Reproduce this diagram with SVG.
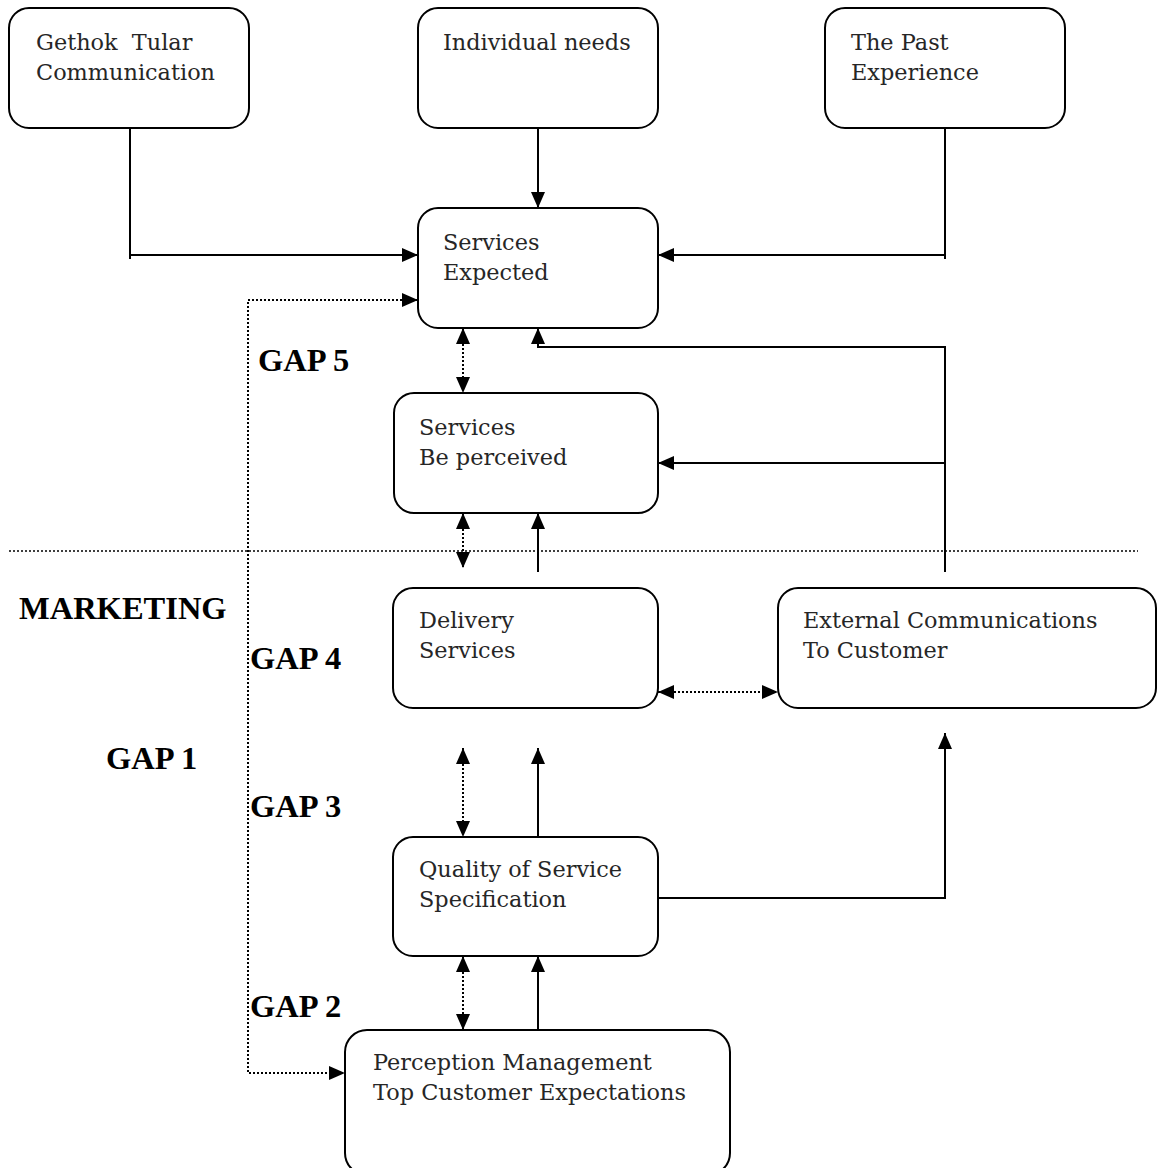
<svg xmlns="http://www.w3.org/2000/svg" width="1157" height="1168" viewBox="0 0 1157 1168">
<style>
.box{fill:#fff;stroke:#000;stroke-width:2}
.t{font-family:"DejaVu Serif","Liberation Serif",serif;font-size:22.4px;fill:#262626}
.g{font-family:"Liberation Serif","Times New Roman",serif;font-size:32.5px;font-weight:bold;fill:#000}
.c{fill:none;stroke:#000;stroke-width:2}
.d{fill:none;stroke:#000;stroke-width:2;stroke-dasharray:2 2}
</style>
<defs>
<marker id="ah" viewBox="0 0 16 14" refX="16" refY="7" markerWidth="16" markerHeight="14" markerUnits="userSpaceOnUse" orient="auto-start-reverse"><path d="M0,0 L16,7 L0,14 Z" fill="#000"/></marker>
</defs>
<rect width="1157" height="1168" fill="#fff"/>
<g id="connectors">
<path class="c" d="M130,128 V259"/>
<path class="c" d="M130,255 H418" marker-end="url(#ah)"/>
<path class="c" d="M538,128 V208" marker-end="url(#ah)"/>
<path class="c" d="M945,128 V259"/>
<path class="c" d="M945,255 H658" marker-end="url(#ah)"/>
<path class="d" d="M418,300 H248 V1073 H345" marker-start="url(#ah)" marker-end="url(#ah)"/>
<path class="d" d="M463,328 V393" marker-start="url(#ah)" marker-end="url(#ah)"/>
<path class="c" d="M945,572 V347 H538 V328" marker-end="url(#ah)"/>
<path class="c" d="M945,463 H658" marker-end="url(#ah)"/>
<path class="d" d="M463,513 V568" marker-start="url(#ah)" marker-end="url(#ah)"/>
<path class="c" d="M538,572 V513" marker-end="url(#ah)"/>
<path fill="none" stroke="#000" stroke-width="1.5" stroke-dasharray="2 2" d="M9,551 H1138"/>
<path class="d" d="M658,692 H778" marker-start="url(#ah)" marker-end="url(#ah)"/>
<path class="d" d="M463,748 V837" marker-start="url(#ah)" marker-end="url(#ah)"/>
<path class="c" d="M538,843 V748" marker-end="url(#ah)"/>
<path class="c" d="M658,898 H945 V733" marker-end="url(#ah)"/>
<path class="d" d="M463,956 V1030" marker-start="url(#ah)" marker-end="url(#ah)"/>
<path class="c" d="M538,1041 V956" marker-end="url(#ah)"/>
</g>
<g id="gethok"><rect class="box" x="9" y="8" width="240" height="120" rx="20"/><text class="t" x="36" y="50" xml:space="preserve">Gethok  Tular</text><text class="t" x="36" y="80">Communication</text></g>
<g id="individual"><rect class="box" x="418" y="8" width="240" height="120" rx="20"/><text class="t" x="443" y="50">Individual needs</text></g>
<g id="past"><rect class="box" x="825" y="8" width="240" height="120" rx="20"/><text class="t" x="851" y="50">The Past</text><text class="t" x="851" y="80">Experience</text></g>
<g id="expected"><rect class="box" x="418" y="208" width="240" height="120" rx="20"/><text class="t" x="443" y="250">Services</text><text class="t" x="443" y="280">Expected</text></g>
<g id="perceived"><rect class="box" x="394" y="393" width="264" height="120" rx="20"/><text class="t" x="419" y="435">Services</text><text class="t" x="419" y="465">Be perceived</text></g>
<g id="delivery"><rect class="box" x="393" y="588" width="265" height="120" rx="20"/><text class="t" x="419" y="628">Delivery</text><text class="t" x="419" y="658">Services</text></g>
<g id="external"><rect class="box" x="778" y="588" width="378" height="120" rx="20"/><text class="t" x="803" y="628">External Communications</text><text class="t" x="803" y="658">To Customer</text></g>
<g id="quality"><rect class="box" x="393" y="837" width="265" height="119" rx="20"/><text class="t" x="419" y="877">Quality of Service</text><text class="t" x="419" y="907">Specification</text></g>
<g id="perception"><rect class="box" x="345" y="1030" width="385" height="145" rx="22"/><text class="t" x="373" y="1070">Perception Management</text><text class="t" x="373" y="1100">Top Customer Expectations</text></g>
<g id="labels">
<text class="g" x="258" y="371">GAP 5</text>
<text class="g" x="19" y="619">MARKETING</text>
<text class="g" x="250" y="669">GAP 4</text>
<text class="g" x="106" y="769">GAP 1</text>
<text class="g" x="250" y="817">GAP 3</text>
<text class="g" x="250" y="1017">GAP 2</text>
</g>
</svg>
